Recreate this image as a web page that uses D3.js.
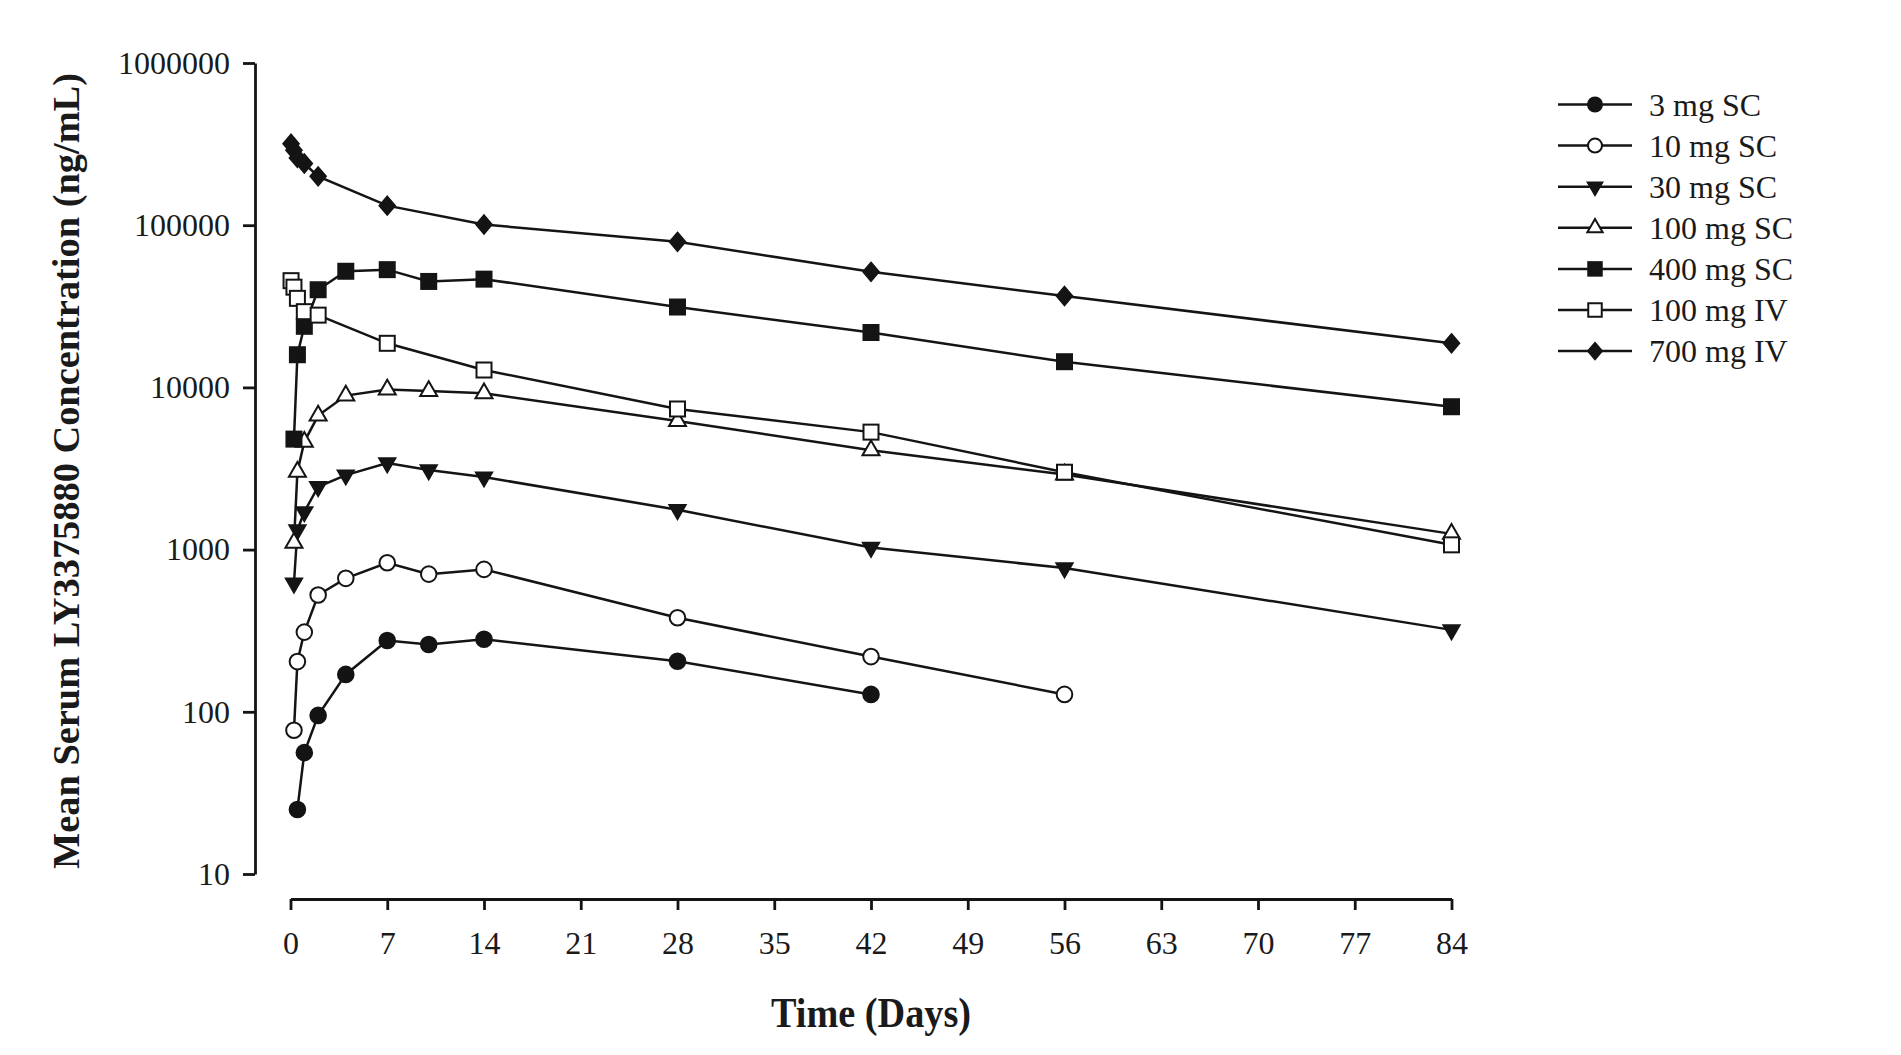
<!DOCTYPE html>
<html>
<head>
<meta charset="utf-8">
<script src="https://cdn.jsdelivr.net/npm/d3@7"></script>
<style>
  html, body { margin: 0; padding: 0; background: #fff; }
  svg { display: block; }
  text { font-family: "Liberation Serif", "Times New Roman", serif; fill: #1a1a1a; }
</style>
</head>
<body>
<svg id="chart" width="1901" height="1055"></svg>
<script>
// ---------------- data ----------------
const seriesNames = ["3 mg SC", "10 mg SC", "30 mg SC", "100 mg SC", "400 mg SC", "100 mg IV", "700 mg IV"];
const seriesSymbols = ["circleFilled", "circleOpen", "triDownFilled", "triUpOpen", "squareFilled", "squareOpen", "diamondFilled"];

const days_3mgSC = [0.5, 1, 2, 4, 7, 10, 14, 28, 42];
const conc_3mgSC = [25, 56, 95, 170, 275, 260, 280, 205, 128];

const days_10mgSC = [0.25, 0.5, 1, 2, 4, 7, 10, 14, 28, 42, 56];
const conc_10mgSC = [77, 204, 310, 525, 665, 830, 706, 755, 380, 219, 128];

const days_30mgSC = [0.25, 0.5, 1, 2, 4, 7, 10, 14, 28, 42, 56, 84];
const conc_30mgSC = [620, 1320, 1710, 2440, 2880, 3420, 3100, 2800, 1760, 1030, 770, 320];

const days_100mgSC = [0.25, 0.5, 1, 2, 4, 7, 10, 14, 28, 42, 56, 84];
const conc_100mgSC = [1100, 3020, 4620, 6700, 8900, 9700, 9500, 9200, 6200, 4100, 2900, 1250];

const days_400mgSC = [0.25, 0.5, 1, 2, 4, 7, 10, 14, 28, 42, 56, 84];
const conc_400mgSC = [4800, 15900, 23800, 40000, 52000, 53200, 45000, 46500, 31300, 21800, 14400, 7600];

const days_100mgIV = [0.04, 0.25, 0.5, 1, 2, 7, 14, 28, 42, 56, 84];
const conc_100mgIV = [45500, 41500, 35400, 29300, 27900, 18700, 12800, 7360, 5300, 3000, 1070];

const days_700mgIV = [0.04, 0.25, 0.5, 1, 2, 7, 14, 28, 42, 56, 84];
const conc_700mgIV = [318000, 290000, 260000, 240000, 200000, 132000, 101000, 79000, 51600, 36600, 18700];

const xTicks = [0, 7, 14, 21, 28, 35, 42, 49, 56, 63, 70, 77, 84];
const yTicks = [10, 100, 1000, 10000, 100000, 1000000];

const xTitle = "Time (Days)";
const yTitle = "Mean Serum LY3375880 Concentration (ng/mL)";

const allDays = [days_3mgSC, days_10mgSC, days_30mgSC, days_100mgSC, days_400mgSC, days_100mgIV, days_700mgIV];
const allConc = [conc_3mgSC, conc_10mgSC, conc_30mgSC, conc_100mgSC, conc_400mgSC, conc_100mgIV, conc_700mgIV];

// ---------------- chart ----------------
const svg = d3.select("#chart");
const ink = "#141414";

const x = d3.scaleLinear().domain([0, 84]).range([290.5, 1451.5]);
const y = d3.scaleLog().domain([10, 1000000]).range([874, 63]);
const yAxisX = 255;
const xAxisY = 899;

// Y axis
const gy = svg.append("g")
  .attr("transform", `translate(${yAxisX},0)`)
  .call(d3.axisLeft(y).tickValues(yTicks).tickFormat(d3.format("d")).tickSize(12).tickSizeOuter(0).tickPadding(13));
gy.select(".domain").attr("stroke", ink).attr("stroke-width", 2.8);
gy.selectAll(".tick line").attr("stroke", ink).attr("stroke-width", 2.8);
gy.selectAll(".tick text").attr("font-size", 32).attr("font-family", "Liberation Serif").attr("fill", "#1a1a1a");

// X axis
const gx = svg.append("g")
  .attr("transform", `translate(0,${xAxisY})`)
  .call(d3.axisBottom(x).tickValues(xTicks).tickSize(11).tickSizeOuter(0).tickPadding(21));
gx.select(".domain").attr("stroke", ink).attr("stroke-width", 2.8);
gx.selectAll(".tick line").attr("stroke", ink).attr("stroke-width", 2.8);
gx.selectAll(".tick text").attr("font-size", 32).attr("font-family", "Liberation Serif").attr("fill", "#1a1a1a");

// Titles
svg.append("text")
  .attr("x", 871).attr("y", 1027)
  .attr("text-anchor", "middle")
  .attr("font-size", 42).attr("font-weight", "bold")
  .attr("textLength", 200).attr("lengthAdjust", "spacingAndGlyphs")
  .text(xTitle);

svg.append("text")
  .attr("transform", "translate(79,471) rotate(-90)")
  .attr("text-anchor", "middle")
  .attr("font-size", 38).attr("font-weight", "bold")
  .attr("textLength", 796).attr("lengthAdjust", "spacingAndGlyphs")
  .text(yTitle);

// marker drawing
function drawMarker(g, kind, cx, cy, scale) {
  const s = scale || 1;
  const sw = 2;
  if (kind === "circleFilled" || kind === "circleOpen") {
    g.append("circle").attr("cx", cx).attr("cy", cy).attr("r", 7.8 * s)
      .attr("fill", kind === "circleFilled" ? ink : "#fff")
      .attr("stroke", ink).attr("stroke-width", sw);
  } else if (kind === "squareFilled" || kind === "squareOpen") {
    const h = 7.5 * s;
    g.append("rect").attr("x", cx - h).attr("y", cy - h).attr("width", 2 * h).attr("height", 2 * h)
      .attr("fill", kind === "squareFilled" ? ink : "#fff")
      .attr("stroke", ink).attr("stroke-width", sw);
  } else if (kind === "triDownFilled") {
    const w = 8.5 * s;
    g.append("path")
      .attr("d", `M${cx - w},${cy - 0.58 * w} L${cx + w},${cy - 0.58 * w} L${cx},${cy + 1.15 * w} Z`)
      .attr("fill", ink).attr("stroke", ink).attr("stroke-width", 1.5);
  } else if (kind === "triUpOpen") {
    const w = 8.5 * s;
    g.append("path")
      .attr("d", `M${cx - w},${cy + 0.58 * w} L${cx + w},${cy + 0.58 * w} L${cx},${cy - 1.15 * w} Z`)
      .attr("fill", "#fff").attr("stroke", ink).attr("stroke-width", sw);
  } else if (kind === "diamondFilled") {
    const w = 9.5 * s;
    g.append("path")
      .attr("d", `M${cx},${cy - w} L${cx + w * 0.85},${cy} L${cx},${cy + w} L${cx - w * 0.85},${cy} Z`)
      .attr("fill", ink).attr("stroke", ink).attr("stroke-width", 1.5);
  }
}

const line = d3.line().x(d => x(d[0])).y(d => y(d[1]));

seriesNames.forEach((name, i) => {
  const pts = allDays[i].map((d, j) => [d, allConc[i][j]]);
  const g = svg.append("g").attr("class", "series");
  g.append("path").datum(pts)
    .attr("d", line)
    .attr("fill", "none").attr("stroke", ink).attr("stroke-width", 2.5);
  pts.forEach(p => drawMarker(g, seriesSymbols[i], x(p[0]), y(p[1])));
});

// Legend
const legend = svg.append("g").attr("class", "legend");
seriesNames.forEach((name, i) => {
  const ly = 104.5 + i * 41.1;
  legend.append("line").attr("x1", 1558).attr("x2", 1632).attr("y1", ly).attr("y2", ly)
    .attr("stroke", ink).attr("stroke-width", 2.5);
  drawMarker(legend, seriesSymbols[i], 1595, ly, 0.9);
  legend.append("text").attr("x", 1649).attr("y", ly + 11)
    .attr("font-size", 32).text(name);
});
</script>
</body>
</html>
